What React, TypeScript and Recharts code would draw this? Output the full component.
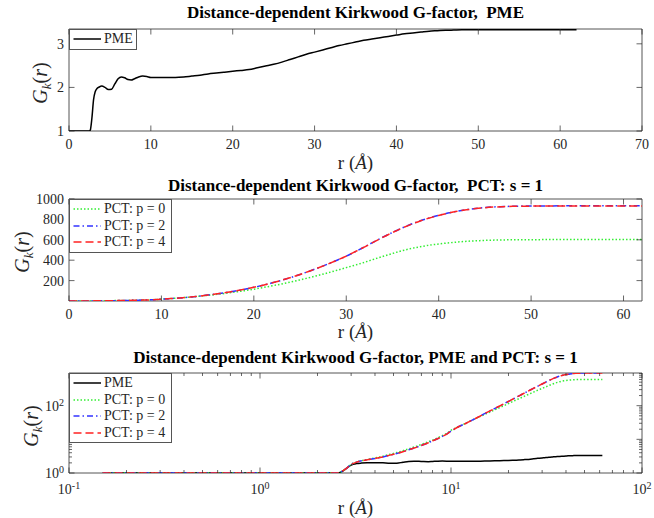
import React from "react";
import { LineChart, Line, XAxis, YAxis, ReferenceArea } from "recharts";

// r grid (Å) and the four G_k(r) curves
const r = [
  0, 0.15, 0.5, 1, 1.5, 2, 2.5, 2.6, 2.8, 3.0, 3.2, 3.4, 3.7, 4.0, 4.4, 4.8, 5.2, 5.6, 6.0, 6.4, 6.8, 7.2, 7.6, 8.0, 8.5, 9.0, 9.5, 10,
  11, 12, 13, 14, 15, 16, 17, 18, 19, 20, 21, 22, 23, 24, 25, 26, 27, 28, 29, 30, 31, 32, 33, 34, 35, 36, 37, 38, 39, 40,
  41, 42, 43, 44, 45, 46, 47, 48, 50, 52, 54, 56, 58, 60, 62,
];
const pme = [
  1, 1, 1, 1, 1, 1, 1, 1.02, 1.3, 1.72, 1.9, 1.97, 2.01, 2.03, 2.0, 1.95, 1.96, 2.08, 2.2, 2.24, 2.22, 2.18, 2.17, 2.2, 2.24, 2.26, 2.25, 2.23,
  2.23, 2.23, 2.23, 2.24, 2.26, 2.28, 2.31, 2.33, 2.35, 2.37, 2.39, 2.41, 2.45, 2.49, 2.53, 2.58, 2.64, 2.7, 2.76, 2.81, 2.86, 2.91, 2.96, 3.0,
  3.04, 3.08, 3.11, 3.14, 3.17, 3.2, 3.23, 3.25, 3.27, 3.29, 3.3, 3.31, 3.315, 3.32, 3.32, 3.322, 3.324, 3.325, 3.325, 3.325, 3.325,
];
const pct0 = [
  1, 1, 1, 1, 1, 1, 1, 1.03, 1.3, 1.8, 2.1, 2.32, 2.55, 2.8, 3.15, 3.6, 4.05, 4.6, 5.2, 5.9, 6.6, 7.5, 8.4, 9.5, 11, 12.8, 14.9, 18.5,
  24, 30.5, 38, 46, 55, 65, 76, 88, 101, 116, 132, 149, 167, 186, 207, 229, 252, 276, 301, 327, 353, 380, 410, 438,
  466, 492, 514, 532, 547, 559, 569, 578, 585, 590, 594, 597, 599, 600, 601, 602, 602, 602, 602, 602, 602,
];
const pct2 = [
  1, 1, 1, 1, 1, 1, 1, 1.03, 1.3, 1.8, 2.1, 2.3, 2.5, 2.7, 3.0, 3.4, 3.8, 4.3, 4.9, 5.5, 6.2, 7.0, 7.9, 9.0, 10.4, 12.2, 14.3, 17.5,
  24, 30, 38, 47, 58, 70, 83, 98, 115, 134, 155, 178, 203, 230, 260, 292, 326, 362, 400, 440, 485, 532, 580, 628,
  672, 714, 752, 786, 815, 840, 862, 880, 895, 907, 916, 922, 926, 929, 931, 932, 933, 933, 933, 933, 933,
];
const pct4 = [
  1, 1, 1, 1, 1, 1, 1, 1.03, 1.3, 1.8, 2.1, 2.3, 2.5, 2.7, 3.0, 3.4, 3.8, 4.3, 4.9, 5.5, 6.2, 7.0, 7.9, 9.0, 10.4, 12.2, 14.3, 17.5,
  24, 30, 38, 47, 58, 70, 83, 98, 115, 134, 155, 178, 203, 230, 260, 292, 326, 362, 400, 440, 485, 531, 579, 627,
  671, 713, 751, 785, 814, 839, 861, 879, 894, 906, 915, 921, 925, 928, 930, 931, 932, 932, 932, 932, 932,
];

const xTicksPme = [0, 10, 20, 30, 40, 50, 60, 70];
const yTicksPme = [1, 2, 3];
const xTicksPct = [0, 10, 20, 30, 40, 50, 60];
const yTicksPct = [200, 400, 600, 800, 1000];
const xTicksLog = [0.1, 1, 10, 100];
const yTicksLog = [1, 10, 100];
const yLabelsLog = [1, 100];
const xMinorLog = [0.2, 0.3, 0.4, 0.5, 0.6, 0.7, 0.8, 0.9, 2, 3, 4, 5, 6, 7, 8, 9, 20, 30, 40, 50, 60, 70, 80, 90];
const yMinorLog = [2, 3, 4, 5, 6, 7, 8, 9, 20, 30, 40, 50, 60, 70, 80, 90, 200, 300, 400, 500, 600, 700, 800, 900];

const rows = r.map((v, i) => ({ r: v, pme: pme[i], p0: pct0[i], p2: pct2[i], p4: pct4[i] }));
const logRows = rows.filter((d) => d.r > 0);

const SERIF = '"Liberation Serif", "Times New Roman", serif';
const AX = "#262626";
const BOX = "#555555";
const TICK = 5.5;
const MINOR = 3;
const PLOT_W = 573;

const series: Record<string, { label: string; stroke: string; dash?: string }> = {
  pme: { label: "PME", stroke: "#000000" },
  p0: { label: "PCT: p = 0", stroke: "#33ee33", dash: "1.5 2" },
  p2: { label: "PCT: p = 2", stroke: "#3333ff", dash: "6 3 1.5 3" },
  p4: { label: "PCT: p = 4", stroke: "#ff2222", dash: "8 4" },
};

const pow = (v: number) => (
  <>
    <tspan>10</tspan>
    <tspan dy="-0.5em" fontSize={10}>{Math.round(Math.log10(v))}</tspan>
  </>
);

// bottom-axis tick: label below, inward tick marks at the bottom and the top of the box
function makeXTick(margin: number, plotH: number, major: number[], labelled: number[], log: boolean) {
  return (p: any) => {
    const v = p.payload.value;
    const axisY = p.y - margin;
    const len = major.includes(v) ? TICK : MINOR;
    return (
      <g>
        <line x1={p.x} x2={p.x} y1={axisY} y2={axisY - len} stroke={AX} strokeWidth={0.7} />
        <line x1={p.x} x2={p.x} y1={axisY - plotH} y2={axisY - plotH + len} stroke={AX} strokeWidth={0.7} />
        {labelled.includes(v) && (
          <text x={p.x} y={p.y} dy="0.8em" textAnchor="middle" fill={AX} fontSize={14} fontFamily={SERIF}>
            {log ? pow(v) : v}
          </text>
        )}
      </g>
    );
  };
}

// left-axis tick: label to the left, inward tick marks on the left and right sides
function makeYTick(margin: number, major: number[], labelled: number[], log: boolean) {
  return (p: any) => {
    const v = p.payload.value;
    const axisX = p.x + margin;
    const len = major.includes(v) ? TICK : MINOR;
    return (
      <g>
        <line x1={axisX} x2={axisX + len} y1={p.y} y2={p.y} stroke={AX} strokeWidth={0.7} />
        <line x1={axisX + PLOT_W} x2={axisX + PLOT_W - len} y1={p.y} y2={p.y} stroke={AX} strokeWidth={0.7} />
        {labelled.includes(v) && (
          <text x={p.x} y={p.y} dy="0.35em" textAnchor="end" fill={AX} fontSize={14} fontFamily={SERIF}>
            {log ? pow(v) : v}
          </text>
        )}
      </g>
    );
  };
}

function lines(keys: string[]) {
  return keys.map((k) => (
    <Line
      key={k}
      dataKey={k}
      type="monotone"
      stroke={series[k].stroke}
      strokeWidth={1.5}
      strokeDasharray={series[k].dash}
      dot={false}
      activeDot={false}
      isAnimationActive={false}
    />
  ));
}

function Legend({ left, top, width, keys }: { left: number; top: number; width: number; keys: string[] }) {
  return (
    <div
      style={{
        position: "absolute",
        left,
        top,
        width,
        boxSizing: "border-box",
        border: `1px solid ${BOX}`,
        background: "#fff",
        padding: "1px 0",
      }}
    >
      {keys.map((k) => (
        <div key={k} style={{ display: "flex", alignItems: "center", height: 16.5 }}>
          <svg width={34} height={16} style={{ display: "block" }}>
            <line x1={3.5} x2={31} y1={8} y2={8} stroke={series[k].stroke} strokeWidth={1.5} strokeDasharray={series[k].dash} />
          </svg>
          <span style={{ fontSize: 14, color: AX, whiteSpace: "nowrap", lineHeight: "16px" }}>{series[k].label}</span>
        </div>
      ))}
    </div>
  );
}

const Title = ({ top, text }: { top: number; text: string }) => (
  <div style={{ position: "absolute", left: 69, width: PLOT_W, top, textAlign: "center", fontSize: 17, fontWeight: "bold", lineHeight: "18px", color: "#000", whiteSpace: "pre" }}>
    {text}
  </div>
);

const XLabel = ({ top }: { top: number }) => (
  <div style={{ position: "absolute", left: 69, width: PLOT_W, top, textAlign: "center", fontSize: 19, lineHeight: "20px", color: AX }}>
    r (<i>Å</i>)
  </div>
);

const YLabel = ({ cx, cy }: { cx: number; cy: number }) => (
  <div
    style={{
      position: "absolute",
      left: cx,
      top: cy,
      transform: "translate(-50%, -50%) rotate(-90deg)",
      fontSize: 20,
      lineHeight: "20px",
      whiteSpace: "nowrap",
      color: AX,
    }}
  >
    <i>G</i>
    <i style={{ fontSize: 13, position: "relative", top: 4 }}>k</i>(<i>r</i>)
  </div>
);

const frame = (xd: number[], yd: number[]) => (
  <ReferenceArea x1={xd[0]} x2={xd[1]} y1={yd[0]} y2={yd[1]} fill="none" stroke={BOX} strokeWidth={1} ifOverflow="visible" />
);

export default function App() {
  const dPme = { x: [0, 70], y: [1, 3.34] };
  const dPct = { x: [0, 62], y: [0, 1000] };
  const dLog = { x: [0.1, 100], y: [1, 935] };
  return (
    <div style={{ position: "absolute", left: 0, top: 0, width: 654, height: 518, background: "#fff", fontFamily: SERIF, overflow: "hidden" }}>
      {/* PME */}
      <div style={{ position: "absolute", left: 0, top: 0 }}>
        <LineChart width={654} height={171} data={rows} margin={{ top: 29, right: 12, bottom: 0, left: 0 }}>
          <XAxis dataKey="r" type="number" domain={dPme.x} ticks={xTicksPme} interval={0} height={40} tickSize={0} tickMargin={7} tick={makeXTick(7, 102, xTicksPme, xTicksPme, false)} tickLine={false} axisLine={false} allowDataOverflow />
          <YAxis type="number" domain={dPme.y} ticks={yTicksPme} interval={0} width={69} tickSize={0} tickMargin={5} tick={makeYTick(5, yTicksPme, yTicksPme, false)} tickLine={false} axisLine={false} allowDataOverflow />
          {frame(dPme.x, dPme.y)}
          {lines(["pme"])}
        </LineChart>
      </div>

      {/* PCT */}
      <div style={{ position: "absolute", left: 0, top: 171 }}>
        <LineChart width={654} height={170} data={rows} margin={{ top: 28, right: 12, bottom: 0, left: 0 }}>
          <XAxis dataKey="r" type="number" domain={dPct.x} ticks={xTicksPct} interval={0} height={40} tickSize={0} tickMargin={7} tick={makeXTick(7, 102, xTicksPct, xTicksPct, false)} tickLine={false} axisLine={false} allowDataOverflow />
          <YAxis type="number" domain={dPct.y} ticks={yTicksPct} interval={0} width={69} tickSize={0} tickMargin={5} tick={makeYTick(5, yTicksPct, yTicksPct, false)} tickLine={false} axisLine={false} allowDataOverflow />
          {frame(dPct.x, dPct.y)}
          {lines(["p0", "p2", "p4"])}
        </LineChart>
      </div>

      {/* PME and PCT, log-log */}
      <div style={{ position: "absolute", left: 0, top: 341 }}>
        <LineChart width={654} height={177} data={logRows} margin={{ top: 32, right: 12, bottom: 0, left: 0 }}>
          <XAxis
            dataKey="r"
            type="number"
            scale="log"
            domain={dLog.x}
            ticks={[...xTicksLog, ...xMinorLog]}
            interval={0}
            height={45}
            tickSize={0}
            tickMargin={10}
            tick={makeXTick(10, 100, xTicksLog, xTicksLog, true)}
            tickLine={false}
            axisLine={false}
            allowDataOverflow
          />
          <YAxis
            type="number"
            scale="log"
            domain={dLog.y}
            ticks={[...yTicksLog, ...yMinorLog]}
            interval={0}
            width={69}
            tickSize={0}
            tickMargin={5}
            tick={makeYTick(5, yTicksLog, yLabelsLog, true)}
            tickLine={false}
            axisLine={false}
            allowDataOverflow
          />
          {frame(dLog.x, dLog.y)}
          {lines(["pme", "p0", "p2", "p4"])}
        </LineChart>
      </div>

      <Title top={4} text="Distance-dependent Kirkwood G-factor,  PME" />
      <Title top={177} text="Distance-dependent Kirkwood G-factor,  PCT: s = 1" />
      <Title top={349} text="Distance-dependent Kirkwood G-factor, PME and PCT: s = 1" />

      <XLabel top={153} />
      <XLabel top={322} />
      <XLabel top={498} />

      <YLabel cx={41} cy={83} />
      <YLabel cx={23} cy={252} />
      <YLabel cx={32} cy={426} />

      <Legend left={69} top={29} width={68} keys={["pme"]} />
      <Legend left={69} top={199} width={103} keys={["p0", "p2", "p4"]} />
      <Legend left={69} top={373} width={103} keys={["pme", "p0", "p2", "p4"]} />
    </div>
  );
}
